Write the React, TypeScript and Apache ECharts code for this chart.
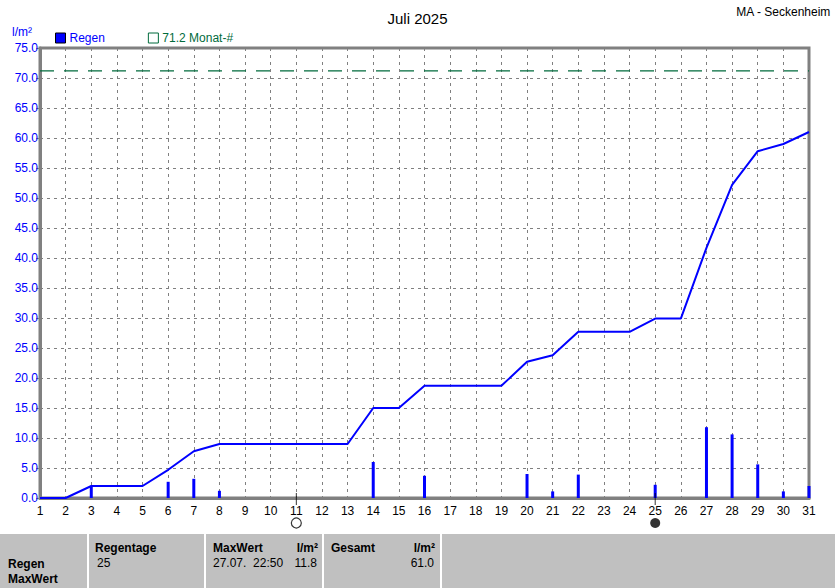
import React, { useEffect, useRef } from "react";
import * as echarts from "echarts";

const days: number[] = Array.from({ length: 31 }, (_, i) => i + 1);
const dailyRain: number[] = [0, 0, 2.0, 0, 0, 2.7, 3.2, 1.2, 0, 0, 0, 0, 0, 6.0, 0, 3.7, 0, 0, 0, 4.0, 1.1, 3.9, 0, 0, 2.2, 0, 11.8, 10.6, 5.6, 1.1, 2.0];
const cumulativeRain: number[] = [0, 0, 2.0, 2.0, 2.0, 4.7, 7.8, 9.0, 9.0, 9.0, 9.0, 9.0, 9.0, 15.0, 15.0, 18.7, 18.7, 18.7, 18.7, 22.7, 23.8, 27.7, 27.7, 27.7, 29.9, 29.9, 41.7, 52.2, 57.8, 59.0, 61.0];
const monthAvg = 71.2;
const fullMoonDays: number[] = [11];
const newMoonDays: number[] = [25];

const FONT = "Liberation Sans, Arial, sans-serif";
const BLUE = "#0000ff";
const GREEN = "#006b3c";
const GRAY = "#808080";

export default function App() {
  const ref = useRef<HTMLDivElement>(null);
  useEffect(() => {
    document.body.style.margin = "0";
    const chart = echarts.init(ref.current!, null, { renderer: "svg" });
    const barData = days.map((d, i) => [d, dailyRain[i]]).filter((p) => p[1] > 0);
    const lineData = days.map((d, i) => [d, cumulativeRain[i]]);
    chart.setOption({
      animation: false,
      backgroundColor: "#ffffff",
      textStyle: { fontFamily: FONT },
      title: {
        text: "Juli 2025",
        left: "center",
        top: 6,
        textStyle: { fontFamily: FONT, fontSize: 15, fontWeight: "normal", color: "#000" },
      },
      legend: {
        left: 50,
        top: 27,
        itemWidth: 10,
        itemHeight: 10,
        itemGap: 43,
        selectedMode: false,
        textStyle: { fontFamily: FONT, fontSize: 12, padding: [0, 0, 0, -1] },
        data: [
          { name: "Regen", icon: "rect", itemStyle: { color: BLUE, borderColor: "#000", borderWidth: 1 }, textStyle: { color: BLUE } },
          { name: "71.2 Monat-#", icon: "rect", itemStyle: { color: "#ffffff", borderColor: GREEN, borderWidth: 1 }, textStyle: { color: GREEN } },
        ],
      },
      grid: { left: 40, right: 26, top: 48, bottom: 90, show: true, borderColor: GRAY, borderWidth: 3, backgroundColor: "transparent" },
      xAxis: {
        type: "value",
        min: 1,
        max: 31,
        interval: 1,
        axisLine: { lineStyle: { color: GRAY, width: 3 } },
        axisTick: { show: false },
        axisLabel: { color: "#000", fontSize: 12, fontFamily: FONT, margin: 7 },
        splitLine: { show: true, lineStyle: { color: GRAY, type: [3, 4], width: 1 } },
      },
      yAxis: {
        type: "value",
        min: 0,
        max: 75,
        interval: 5,
        axisLine: { show: true, lineStyle: { color: GRAY, width: 3 } },
        axisTick: { show: true, length: 4, lineStyle: { color: GRAY } },
        axisLabel: { color: BLUE, fontSize: 12, fontFamily: FONT, margin: 2, formatter: (v: number) => v.toFixed(1) },
        splitLine: { show: true, lineStyle: { color: GRAY, type: [3, 4], width: 1 } },
      },
      series: [
        {
          name: "Regen",
          type: "bar",
          data: barData,
          barWidth: 3,
          itemStyle: { color: BLUE },
          z: 3,
        },
        {
          name: "Regen",
          type: "line",
          data: lineData,
          symbol: "none",
          lineStyle: { color: BLUE, width: 2 },
          z: 4,
        },
        {
          name: "71.2 Monat-#",
          type: "line",
          data: [[1, monthAvg], [31, monthAvg]],
          symbol: "none",
          lineStyle: { color: GREEN, width: 1.2, type: [14, 10] },
          z: 2,
        },
        {
          type: "scatter",
          data: [...fullMoonDays, ...newMoonDays].map((d) => [d, 0]),
          symbol: "rect",
          symbolSize: [1, 12],
          symbolOffset: [0, 1],
          itemStyle: { color: "#000" },
          clip: false,
          silent: true,
          z: 6,
        },
        {
          type: "scatter",
          data: fullMoonDays.map((d) => [d, 0]),
          symbol: "circle",
          symbolSize: 10,
          symbolOffset: [0, 25],
          itemStyle: { color: "#ffffff", borderColor: "#000", borderWidth: 1.2 },
          clip: false,
          silent: true,
          z: 6,
        },
        {
          type: "scatter",
          data: newMoonDays.map((d) => [d, 0]),
          symbol: "circle",
          symbolSize: 10,
          symbolOffset: [0, 25],
          itemStyle: { color: "#000" },
          clip: false,
          silent: true,
          z: 6,
        },
      ],
      graphic: [
        { type: "text", right: 4, top: 6, style: { text: "MA - Seckenheim", font: `12px ${FONT}`, fill: "#000" } },
        { type: "text", left: 12, top: 26, style: { text: "l/m²", font: `12px ${FONT}`, fill: BLUE } },
        { type: "rect", shape: { x: 0, y: 534, width: 835, height: 54 }, style: { fill: "#c0c0c0" }, z: 0 },
        { type: "line", shape: { x1: 88, y1: 534, x2: 88, y2: 588 }, style: { stroke: "#ffffff", lineWidth: 2 } },
        { type: "line", shape: { x1: 205, y1: 534, x2: 205, y2: 588 }, style: { stroke: "#ffffff", lineWidth: 2 } },
        { type: "line", shape: { x1: 323, y1: 534, x2: 323, y2: 588 }, style: { stroke: "#ffffff", lineWidth: 2 } },
        { type: "line", shape: { x1: 441, y1: 534, x2: 441, y2: 588 }, style: { stroke: "#ffffff", lineWidth: 2 } },
        { type: "text", x: 8, y: 558, style: { text: "Regen", font: `bold 12px ${FONT}`, fill: "#000" } },
        { type: "text", x: 8, y: 573, style: { text: "MaxWert", font: `bold 12px ${FONT}`, fill: "#000" } },
        { type: "text", x: 95, y: 542, style: { text: "Regentage", font: `bold 12px ${FONT}`, fill: "#000" } },
        { type: "text", x: 97, y: 557, style: { text: "25", font: `12px ${FONT}`, fill: "#000" } },
        { type: "text", x: 213, y: 542, style: { text: "MaxWert", font: `bold 12px ${FONT}`, fill: "#000" } },
        { type: "text", x: 318, y: 542, style: { text: "l/m²", font: `bold 12px ${FONT}`, fill: "#000", align: "right" } },
        { type: "text", x: 213, y: 557, style: { text: "27.07.  22:50", font: `12px ${FONT}`, fill: "#000" } },
        { type: "text", x: 317, y: 557, style: { text: "11.8", font: `12px ${FONT}`, fill: "#000", align: "right" } },
        { type: "text", x: 331, y: 542, style: { text: "Gesamt", font: `bold 12px ${FONT}`, fill: "#000" } },
        { type: "text", x: 435, y: 542, style: { text: "l/m²", font: `bold 12px ${FONT}`, fill: "#000", align: "right" } },
        { type: "text", x: 434, y: 557, style: { text: "61.0", font: `12px ${FONT}`, fill: "#000", align: "right" } },
      ],
    });
    return () => chart.dispose();
  }, []);
  return <div ref={ref} style={{ position: "absolute", left: 0, top: 0, width: 835, height: 588 }} />;
}
